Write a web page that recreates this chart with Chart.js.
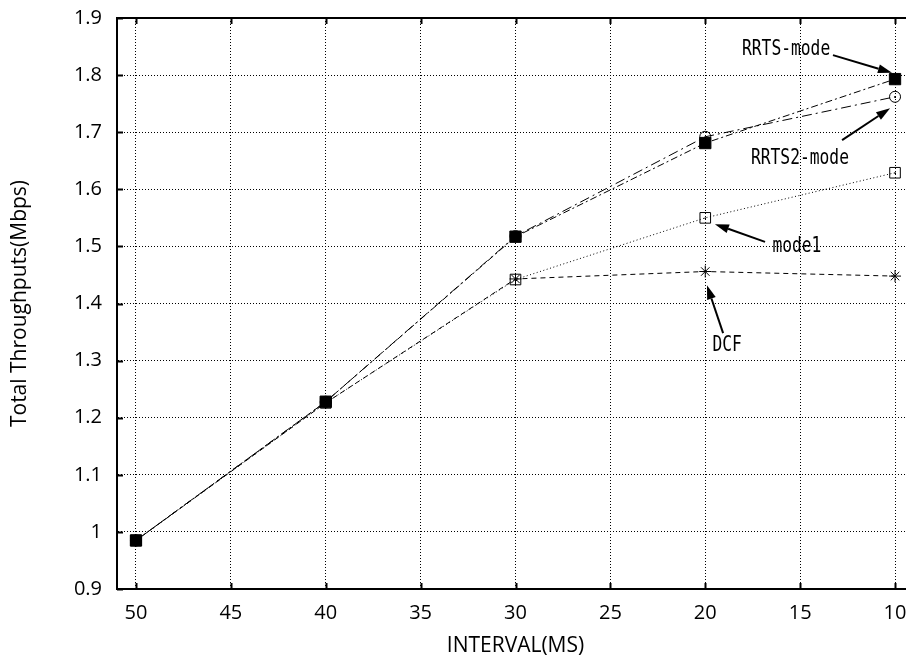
<!DOCTYPE html>
<html><head><meta charset="utf-8">
<script src="https://cdn.jsdelivr.net/npm/chart.js@4.4.0/dist/chart.umd.min.js"></script>
<style>
html,body{margin:0;padding:0;background:#fff;overflow:hidden;width:906px;height:661px}
#clip{position:relative;left:0;top:0;width:906px;height:661px;overflow:hidden}
#wrap{position:absolute;left:0;top:0;width:930px;height:661px}
</style>
</head><body><div id="clip"><div id="wrap"><canvas id="c" width="930" height="661"></canvas></div></div>
<script>
// ---- data ----
const intervals = [50, 40, 30, 20, 10];
const rrtsMode  = [0.985, 1.228, 1.517, 1.681, 1.793];
const rrts2Mode = [0.985, 1.228, 1.518, 1.692, 1.762];
const mode1     = [0.985, 1.226, 1.442, 1.550, 1.629];
const dcf       = [0.985, 1.226, 1.443, 1.456, 1.448];
const xTicks = [50, 45, 40, 35, 30, 25, 20, 15, 10];
const yTicks = [0.9, 1, 1.1, 1.2, 1.3, 1.4, 1.5, 1.6, 1.7, 1.8, 1.9];
const yTickLabels = ['0.9', '1', '1.1', '1.2', '1.3', '1.4', '1.5', '1.6', '1.7', '1.8', '1.9'];
const seriesNames = ['RRTS-mode', 'RRTS2-mode', 'mode1', 'DCF'];
const xTitle = 'INTERVAL(MS)';
const yTitle = 'Total Throughputs(Mbps)';

// annotation placement (in data units)
const notes = [
  {text: 'RRTS-mode',  x: 15.74, y: 1.844, fx: 13.27, fy: 1.835, tx: 10.16, ty: 1.804},
  {text: 'RRTS2-mode', x: 15.01, y: 1.653, fx: 12.79, fy: 1.686, tx: 10.26, ty: 1.742},
  {text: 'mode1',      x: 15.17, y: 1.499, fx: 16.85, fy: 1.508, tx: 19.49, ty: 1.539},
  {text: 'DCF',        x: 18.85, y: 1.326, fx: 19.06, fy: 1.348, tx: 19.91, ty: 1.432}
];

const pts = arr => intervals.map((x, i) => ({x, y: arr[i]}));
const FONT = "'Open Sans', 'Noto Sans', sans-serif";

const framePlugin = {
  id: 'frame',
  afterDatasetsDraw(chart) {
    const ctx = chart.ctx, a = chart.chartArea;
    const xs = chart.scales.x, ys = chart.scales.y;
    ctx.save();
    // small dots inside open markers
    ctx.fillStyle = '#000';
    [1, 2].forEach(di => {
      chart.getDatasetMeta(di).data.forEach(p => {
        ctx.fillRect(Math.round(p.x) - 0.5, Math.round(p.y) - 0.5, 1.5, 1.5);
      });
    });
    // top border
    ctx.strokeStyle = '#000';
    ctx.lineWidth = 2;
    ctx.beginPath();
    ctx.moveTo(a.left - 1, a.top);
    ctx.lineTo(a.right, a.top);
    ctx.stroke();
    // inward tick marks
    ctx.beginPath();
    xTicks.forEach(v => {
      const px = Math.round(xs.getPixelForValue(v)) + 0.5;
      ctx.moveTo(px, a.bottom); ctx.lineTo(px, a.bottom - 6);
      ctx.moveTo(px, a.top); ctx.lineTo(px, a.top + 6);
    });
    yTicks.forEach(v => {
      const py = Math.round(ys.getPixelForValue(v)) + 0.5;
      ctx.moveTo(a.left, py); ctx.lineTo(a.left + 6, py);
    });
    ctx.stroke();
    // annotations with arrows
    ctx.font = "21px 'DejaVu Sans Mono', monospace";
    ctx.textAlign = 'center';
    ctx.textBaseline = 'middle';
    notes.forEach(n => {
      const cx = xs.getPixelForValue(n.x), cy = ys.getPixelForValue(n.y);
      ctx.fillText(n.text, cx, cy, n.text.length * 9.8);
      const x1 = xs.getPixelForValue(n.fx), y1 = ys.getPixelForValue(n.fy);
      const x2 = xs.getPixelForValue(n.tx), y2 = ys.getPixelForValue(n.ty);
      const ang = Math.atan2(y2 - y1, x2 - x1);
      const L = 14, W = 4.5;
      const bx = x2 - L * Math.cos(ang), by = y2 - L * Math.sin(ang);
      ctx.lineWidth = 2;
      ctx.beginPath(); ctx.moveTo(x1, y1); ctx.lineTo(bx, by); ctx.stroke();
      ctx.beginPath();
      ctx.moveTo(x2, y2);
      ctx.lineTo(bx + W * Math.sin(ang), by - W * Math.cos(ang));
      ctx.lineTo(bx - W * Math.sin(ang), by + W * Math.cos(ang));
      ctx.closePath(); ctx.fill();
    });
    ctx.restore();
  }
};

new Chart(document.getElementById('c'), {
  type: 'line',
  data: {
    datasets: [
      {label: seriesNames[0], data: pts(rrtsMode), borderColor: '#000', borderWidth: 1,
       borderDash: [7, 3, 2, 3], pointStyle: 'rect', pointRadius: 8, pointBackgroundColor: '#000',
       pointBorderColor: '#000', pointBorderWidth: 1},
      {label: seriesNames[1], data: pts(rrts2Mode), borderColor: '#000', borderWidth: 1,
       borderDash: [10, 4, 2, 4], pointStyle: 'circle', pointRadius: 5.5, pointBackgroundColor: 'rgba(0,0,0,0)',
       pointBorderColor: '#000', pointBorderWidth: 1},
      {label: seriesNames[2], data: pts(mode1), borderColor: '#000', borderWidth: 1,
       borderDash: [1, 2.5], pointStyle: 'rect', pointRadius: 7.5, pointBackgroundColor: 'rgba(0,0,0,0)',
       pointBorderColor: '#000', pointBorderWidth: 1},
      {label: seriesNames[3], data: pts(dcf), borderColor: '#000', borderWidth: 1,
       borderDash: [5, 4], pointStyle: 'star', pointRadius: 6, pointBackgroundColor: 'rgba(0,0,0,0)',
       pointBorderColor: '#000', pointBorderWidth: 1}
    ]
  },
  options: {
    responsive: false,
    animation: false,
    devicePixelRatio: 1,
    layout: {padding: {top: 18, right: 16, left: 0, bottom: 0}},
    plugins: {legend: {display: false}, tooltip: {enabled: false}},
    elements: {line: {tension: 0, fill: false}},
    scales: {
      x: {
        type: 'linear', reverse: true, min: 9, max: 51,
        afterBuildTicks: s => { s.ticks = xTicks.map(v => ({value: v})); },
        afterFit: s => { s.height = 72; s.paddingLeft = 0; s.paddingRight = 0; },
        grid: {color: '#000', lineWidth: 1, drawTicks: false},
        border: {display: true, color: '#000', width: 2, dash: [1, 2]},
        ticks: {color: '#000', font: {family: FONT, size: 20}, padding: 12,
                maxRotation: 0, autoSkip: false, callback: v => String(v)},
        title: {display: true, text: xTitle, color: '#000', font: {family: FONT, size: 21},
                padding: {top: 0, bottom: 2}}
      },
      y: {
        type: 'linear', min: 0.9, max: 1.9,
        afterBuildTicks: s => { s.ticks = yTicks.map(v => ({value: v})); },
        afterFit: s => { s.width = 117; s.paddingTop = 0; s.paddingBottom = 0; },
        grid: {color: '#000', lineWidth: 1, drawTicks: false},
        border: {display: true, color: '#000', width: 2, dash: [1, 2]},
        ticks: {color: '#000', font: {family: FONT, size: 20}, padding: 15, autoSkip: false,
                callback: (v, i) => yTickLabels[yTicks.indexOf(v)] ?? String(v)},
        title: {display: true, text: yTitle, color: '#000', font: {family: FONT, size: 21},
                padding: {top: 7, bottom: 0}}
      }
    }
  },
  plugins: [framePlugin]
});
</script>
</body></html>
